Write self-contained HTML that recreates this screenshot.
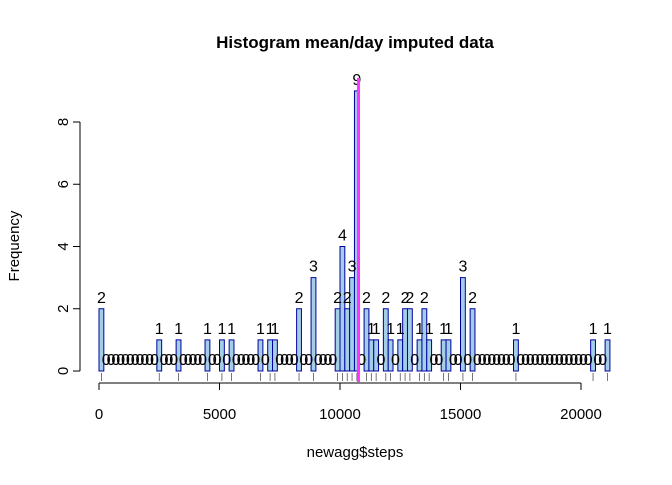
<!DOCTYPE html>
<html><head><meta charset="utf-8"><style>
body{margin:0;background:#fff}
svg text{font-family:"Liberation Sans",Arial,sans-serif}
</style></head><body>
<svg id="chart" width="672" height="480" xmlns="http://www.w3.org/2000/svg">
<text x="355" y="48" text-anchor="middle" font-size="17" font-weight="bold">Histogram mean/day imputed data</text>
<text x="355" y="457" text-anchor="middle" font-size="15">newagg$steps</text>
<text x="19" y="246" text-anchor="middle" font-size="15" transform="rotate(-90 19 246)">Frequency</text>
<g id="bars"></g><g id="labels"></g><g id="axes"></g><g id="overlay"></g>
</svg>
<script>
const binWidth = 200;
const nBins = 106;
const nonZeroBins = [0,12,16,22,25,27,33,35,36,41,44,49,50,51,52,53,55,56,57,59,60,62,63,64,66,67,68,71,72,75,77,86,102,105];
const nonZeroCounts = [2,1,1,1,1,1,1,1,1,2,3,2,4,2,3,9,2,1,1,2,1,1,2,2,1,2,1,1,1,3,2,1,1,1];
const xTicks = [0,5000,10000,15000,20000];
const yTicks = [0,2,4,6,8];
const meanSteps = 10766;

const NS="http://www.w3.org/2000/svg";
const xs = v => 99 + v * (482/20000);
const ys = c => 371 - c * (249/8);
function mk(tag, attrs, parent){const e=document.createElementNS(NS,tag);for(const k in attrs)e.setAttribute(k,attrs[k]);parent.appendChild(e);return e;}
const bars=document.getElementById('bars'), labels=document.getElementById('labels'), axes=document.getElementById('axes'), overlay=document.getElementById('overlay');
for(let i=0;i<nBins;i++){
  const idx=nonZeroBins.indexOf(i); const c= idx>=0?nonZeroCounts[idx]:0;
  const x0=xs(i*binWidth), x1=xs((i+1)*binWidth);
  const r=mk('rect',{x:x0,y:ys(c),width:x1-x0,height:ys(0)-ys(c),fill:'#a3cfe6',stroke:'#0000a0','stroke-width':1},bars);
  
  
  const t=mk('text',{x:(x0+x1)/2,y:ys(c)-6,'text-anchor':'middle','font-size':16},labels);
  t.textContent=c;
  
  
  if(c>0){
    const rg=mk('line',{x1:(x0+x1)/2,x2:(x0+x1)/2,y1:373,y2:381,stroke:'#555','stroke-width':0.8},axes);
    
    
  }
}
const ml=mk('line',{x1:xs(meanSteps),x2:xs(meanSteps),y1:78,y2:382,stroke:'#ff33ff','stroke-width':3},overlay);


const xa=mk('line',{x1:xs(xTicks[0]),x2:xs(xTicks[xTicks.length-1]),y1:383,y2:383,stroke:'#000'},axes);


xTicks.forEach(v=>{
  const l=mk('line',{x1:xs(v),x2:xs(v),y1:383,y2:390,stroke:'#000'},axes);
  
  
  const t=mk('text',{x:xs(v),y:419,'text-anchor':'middle','font-size':15},axes);
  t.textContent=v;
  
  
});
const ya=mk('line',{x1:80,x2:80,y1:ys(yTicks[0]),y2:ys(yTicks[yTicks.length-1]),stroke:'#000'},axes);


yTicks.forEach(v=>{
  const l=mk('line',{x1:73,x2:80,y1:ys(v),y2:ys(v),stroke:'#000'},axes);
  
  
  const t=mk('text',{x:68,y:ys(v),'text-anchor':'middle','font-size':15,transform:`rotate(-90 68 ${ys(v)})`},axes);
  t.textContent=v;
  
  
});
</script>
</body></html>
